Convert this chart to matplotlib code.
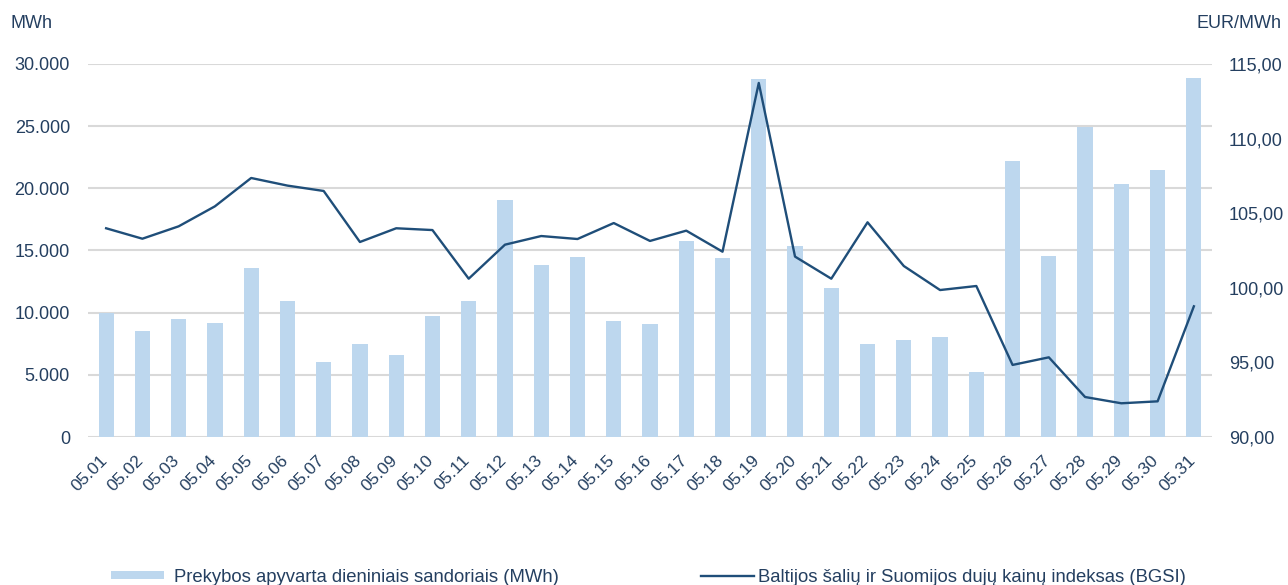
import matplotlib.pyplot as plt
import matplotlib.transforms as mtransforms
from matplotlib.ticker import FuncFormatter
import numpy as np

plt.rcParams['font.family'] = ['Liberation Sans', 'DejaVu Sans']

# daily data, May
days = ['05.%02d' % d for d in range(1, 32)]

turnover_mwh = [
    10000, 8550, 9520, 9170, 13600, 10970, 6030, 7510, 6600, 9760,
    10970, 19090, 13860, 14500, 9300, 9120, 15790, 14370, 28770, 15390,
    11980, 7480, 7780, 8020, 5200, 22230, 14580, 24960, 20380, 21480,
    28880,
]

bgsi_price = [
    103.99, 103.29, 104.12, 105.46, 107.36, 106.85, 106.49, 103.07, 103.99, 103.87,
    100.61, 102.89, 103.47, 103.27, 104.34, 103.14, 103.83, 102.42, 113.73, 102.09,
    100.61, 104.39, 101.46, 99.85, 100.12, 94.83, 95.34, 92.68, 92.26, 92.39,
    98.76,
]

bar_label = 'Prekybos apyvarta dieniniais sandoriais (MWh)'
line_label = 'Baltijos šalių ir Suomijos dujų kainų indeksas (BGSI)'

text_color = '#243f60'
bar_color = '#bdd7ee'
line_color = '#1f4e79'
grid_color = '#d9d9d9'
fs = 13

W, H = 1288, 585
fig = plt.figure(figsize=(W / 100, H / 100), dpi=100)
ax = fig.add_axes([88 / W, 148 / H, 1124 / W, 373 / H])
ax2 = ax.twinx()

x = np.arange(len(days))
bars = ax.bar(x, turnover_mwh, width=0.42, color=bar_color, zorder=2, label=bar_label)
line, = ax2.plot(x, bgsi_price, color=line_color, linewidth=1.7, label=line_label, zorder=3)

ax.set_xlim(-0.5, len(days) - 0.5)
ax.set_ylim(0, 30000)
ax.set_yticks(np.arange(0, 30001, 5000))
ax2.set_ylim(90, 115)
ax2.set_yticks(np.arange(90, 115.1, 5))

ax.yaxis.set_major_formatter(FuncFormatter(lambda v, p: '{:,.0f}'.format(v).replace(',', '.')))
ax2.yaxis.set_major_formatter(FuncFormatter(lambda v, p: '{:.2f}'.format(v).replace('.', ',')))

ax.grid(axis='y', color=grid_color, linewidth=1.5, zorder=0)
ax.set_axisbelow(True)
for a in [ax, ax2]:
    for s in a.spines.values():
        s.set_visible(False)
    a.tick_params(length=0, labelsize=fs, labelcolor=text_color)
ax.tick_params(axis='y', pad=13)
ax2.tick_params(axis='y', pad=12)

ax.set_xticks(x)
ax.set_xticklabels(days, rotation=45, ha='right', va='top', fontsize=12.5)
ax.tick_params(axis='x', pad=11)
shift = mtransforms.ScaledTranslation(4 / 100, 0, fig.dpi_scale_trans)
for lbl in ax.get_xticklabels():
    lbl.set_transform(lbl.get_transform() + shift)

fig.text(10 / W, 1 - 24 / H, 'MWh', fontsize=fs, color=text_color, va='center', ha='left')
fig.text(1282 / W, 1 - 24 / H, 'EUR/MWh', fontsize=fs, color=text_color, va='center', ha='right')

# two legend entries placed separately, like the original
leg_kw = dict(loc='center left', frameon=False, fontsize=13.3, borderpad=0,
              borderaxespad=0, handlelength=2.85, handleheight=0.33)
leg1 = fig.legend(handles=[bars], bbox_to_anchor=(111 / W, 1 - 577 / H),
                  handletextpad=0.55, **leg_kw)
leg2 = fig.legend(handles=[line], bbox_to_anchor=(701 / W, 1 - 577 / H),
                  handletextpad=0.22, **leg_kw)
for leg in [leg1, leg2]:
    for t in leg.get_texts():
        t.set_color(text_color)

fig.savefig('out.png', dpi=100)
